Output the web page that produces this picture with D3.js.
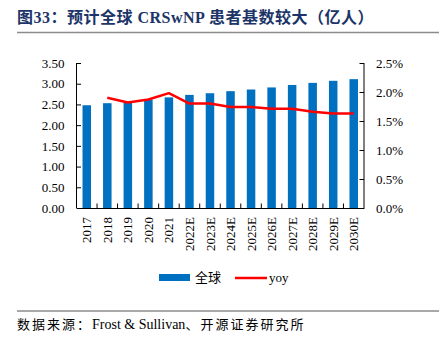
<!DOCTYPE html>
<html>
<head>
<meta charset="utf-8">
<script src="https://cdn.jsdelivr.net/npm/d3@7"></script>
<style>
  body { margin: 0; background: #fff; }
  text { font-family: "Liberation Serif", "Noto Sans CJK SC", serif; fill: #000; }
</style>
</head>
<body>
<svg id="chart"></svg>
<script>
const years = ["2017", "2018", "2019", "2020", "2021", "2022E", "2023E", "2024E", "2025E", "2026E", "2027E", "2028E", "2029E", "2030E"];
const globalPatients = [2.48, 2.53, 2.57, 2.62, 2.67, 2.73, 2.77, 2.82, 2.86, 2.91, 2.97, 3.02, 3.07, 3.11];
const yoy = [null, 0.0190, 0.0182, 0.0187, 0.0198, 0.0180, 0.0180, 0.0174, 0.0174, 0.0171, 0.0171, 0.0166, 0.0163, 0.0163];
const leftTicks = [0, 0.5, 1, 1.5, 2, 2.5, 3, 3.5];
const rightTicks = [0, 0.005, 0.01, 0.015, 0.02, 0.025];

const width = 439;
const height = 340;
const margin = {left: 76.5, right: 75, top: 63, bottom: 132};

const svg = d3.select("#chart")
    .attr("width", width)
    .attr("height", height);

// title
svg.append("text")
    .attr("x", 17)
    .attr("y", 23)
    .style("font-size", "16px")
    .style("font-weight", "bold")
    .style("letter-spacing", "0.5px")
    .style("fill", "#1c3468")
    .text("图33：预计全球 CRSwNP 患者基数较大（亿人）");

svg.append("line")
    .attr("x1", 17).attr("x2", width)
    .attr("y1", 32.5).attr("y2", 32.5)
    .attr("stroke", "#8c8c8c")
    .attr("stroke-width", 1.5);

const x = d3.scaleBand()
    .domain(years)
    .range([margin.left, width - margin.right]);

const y = d3.scaleLinear()
    .domain([0, 3.5])
    .range([height - margin.bottom, margin.top]);

const y2 = d3.scaleLinear()
    .domain([0, 0.025])
    .range([height - margin.bottom, margin.top]);

const bottom = height - margin.bottom;
const barWidth = 8.5;

// bars
svg.append("g").selectAll("rect")
    .data(globalPatients)
  .enter().append("rect")
    .attr("x", (d, i) => x(years[i]) + x.bandwidth() / 2 - barWidth / 2)
    .attr("y", d => y(d))
    .attr("width", barWidth)
    .attr("height", d => bottom - y(d))
    .attr("fill", "#0070c0");

// yoy line
const line = d3.line()
    .defined(d => d[1] != null)
    .x(d => x(d[0]) + x.bandwidth() / 2)
    .y(d => y2(d[1]));

svg.append("path")
    .datum(years.map((c, i) => [c, yoy[i]]))
    .attr("d", line)
    .attr("fill", "none")
    .attr("stroke", "#ff0000")
    .attr("stroke-width", 2.5)
    .attr("stroke-linejoin", "round");

// axes
const leftAxis = svg.append("g")
    .attr("transform", `translate(${margin.left},0)`)
    .call(d3.axisLeft(y).tickValues(leftTicks).tickSize(-4.5).tickPadding(12).tickFormat(d3.format(".2f")));

const rightAxis = svg.append("g")
    .attr("transform", `translate(${width - margin.right},0)`)
    .call(d3.axisRight(y2).tickValues(rightTicks).tickSize(-4.5).tickPadding(12).tickFormat(d3.format(".1%")));

const bottomAxis = svg.append("g")
    .attr("transform", `translate(0,${bottom})`)
    .call(d3.axisBottom(x).tickSize(0).tickPadding(0));

// ticks at category boundaries, pointing up
svg.append("g").selectAll("line")
    .data(years.slice(1))
  .enter().append("line")
    .attr("x1", d => x(d)).attr("x2", d => x(d))
    .attr("y1", bottom).attr("y2", bottom - 4.5)
    .attr("stroke", "#000");

[leftAxis, rightAxis, bottomAxis].forEach(g => {
    g.select(".domain").attr("stroke", "#000");
    g.selectAll(".tick line").attr("stroke", "#000");
    g.selectAll("text").style("font-size", "13px").style("font-family", "Liberation Serif, serif");
});
leftAxis.select(".domain").attr("d", `M0,${margin.top}V${bottom}`);
rightAxis.select(".domain").attr("d", `M0,${margin.top}V${bottom}`);

bottomAxis.selectAll("text")
    .attr("transform", "rotate(-90)")
    .attr("x", -9)
    .attr("y", 0)
    .attr("dy", "0.35em")
    .style("text-anchor", "end");

// legend
const legend = svg.append("g");
legend.append("rect")
    .attr("x", 159).attr("y", 274)
    .attr("width", 31).attr("height", 7)
    .attr("fill", "#0070c0");
legend.append("text")
    .attr("x", 195).attr("y", 282)
    .style("font-size", "13px")
    .text("全球");
legend.append("line")
    .attr("x1", 235).attr("x2", 267)
    .attr("y1", 278).attr("y2", 278)
    .attr("stroke", "#ff0000")
    .attr("stroke-width", 2.5);
legend.append("text")
    .attr("x", 269).attr("y", 282)
    .style("font-size", "13px")
    .text("yoy");

// source
svg.append("line")
    .attr("x1", 17).attr("x2", width)
    .attr("y1", 311).attr("y2", 311)
    .attr("stroke", "#8c8c8c")
    .attr("stroke-width", 1.5);

const source = svg.append("text")
    .attr("x", 17)
    .attr("y", 329)
    .style("font-size", "13px");
source.append("tspan").style("letter-spacing", "2px").text("数据来源：");
source.append("tspan").style("font-size", "14px").text("Frost & Sullivan");
source.append("tspan").style("letter-spacing", "2px").text("、开源证券研究所");
</script>
</body>
</html>
